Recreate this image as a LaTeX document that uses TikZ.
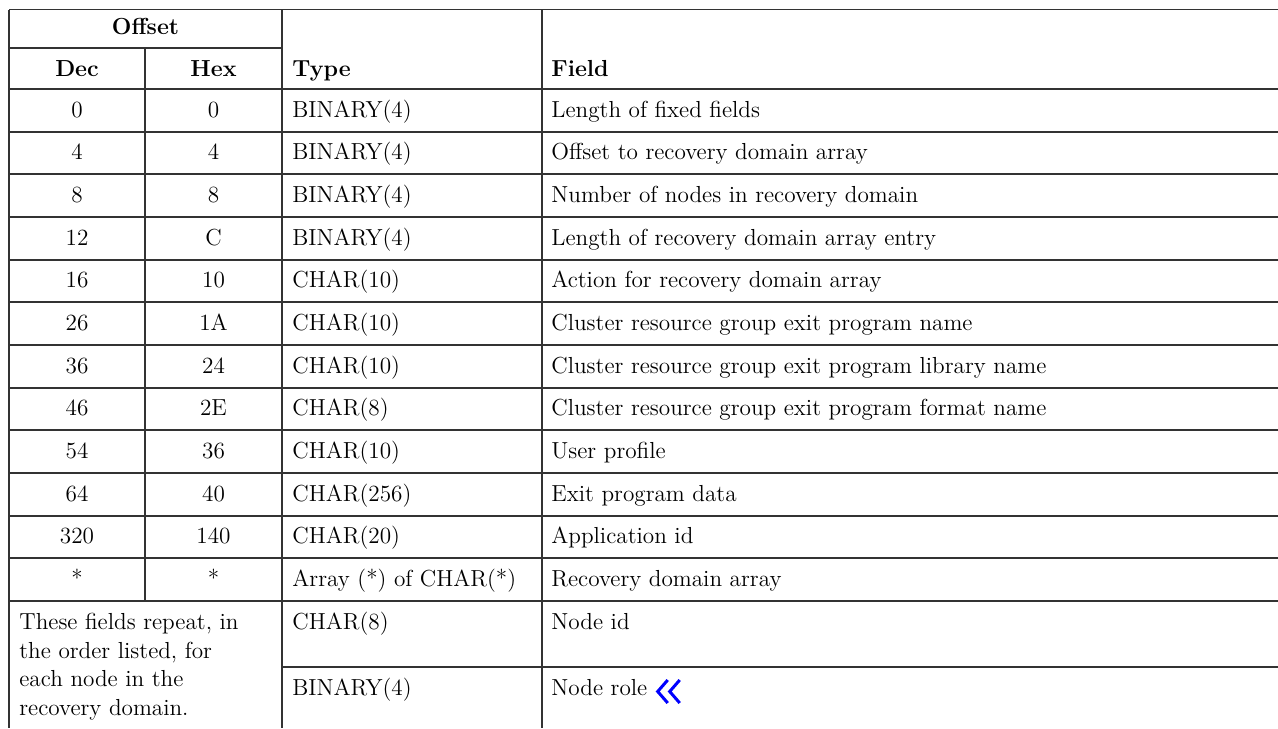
\documentclass[tikz,border=0pt]{standalone}
\usetikzlibrary{calc}
\begin{document}
\begin{tikzpicture}[x=0.5pt,y=-0.5pt,
  rule/.style={draw=black!80,line width=0.9pt},
  txt/.style={inner sep=0pt,font=\fontsize{11.6}{14.25}\selectfont},
  hd/.style={txt,font=\fontsize{11.6}{14.25}\selectfont\bfseries}]
\useasboundingbox (0,0) rectangle (1278,728);
\draw[rule] (9,9.5)--(1278,9.5);
\draw[rule] (9,48)--(282,48);
\draw[rule] (9,89)--(1278,89);
\foreach \r in {1,...,12}
  \draw[rule] (9,89+42.67*\r)--(1278,89+42.67*\r);
\draw[rule] (282,667)--(1278,667);
\draw[rule] (9,9.5)--(9,728);
\draw[rule] (145,48)--(145,601);
\draw[rule] (282,9.5)--(282,728);
\draw[rule] (541.7,9.5)--(541.7,728);
\node[hd,anchor=base](offset)at(145.5,34.5){Offset};
\node[hd,anchor=base](dec)at(77,76){Dec};
\node[hd,anchor=base](hex)at(213.5,76){Hex};
\node[hd,anchor=base west](type)at(292,76){Type};
\node[hd,anchor=base west](field)at(551,76){Field};
\foreach \d/\h/\t/\f [count=\i from 0] in {
  0/0/BINARY(4)/Length of fixed fields,
  4/4/BINARY(4)/Offset to recovery domain array,
  8/8/BINARY(4)/Number of nodes in recovery domain,
  12/C/BINARY(4)/Length of recovery domain array entry,
  16/10/CHAR(10)/Action for recovery domain array,
  26/1A/CHAR(10)/Cluster resource group exit program name,
  36/24/CHAR(10)/Cluster resource group exit program library name,
  46/2E/CHAR(8)/Cluster resource group exit program format name,
  54/36/CHAR(10)/User profile,
  64/40/CHAR(256)/Exit program data,
  320/140/CHAR(20)/Application id,
  */*/Array (*) of CHAR(*)/Recovery domain array}{
  \node[txt,anchor=base](dec\i)at(77,117+42.67*\i){\d};
  \node[txt,anchor=base](hex\i)at(213.5,117+42.67*\i){\h};
  \node[txt,anchor=base west](type\i)at(292,117+42.67*\i){\t};
  \node[txt,anchor=base west](field\i)at(551,117+42.67*\i){\f};
}
\node[txt,anchor=north west,align=left](note)at(19,613){These fields repeat, in\\the order listed, for\\each node in the\\recovery domain.};
\node[txt,anchor=base west](idtype)at(292,629){CHAR(8)};
\node[txt,anchor=base west](id)at(551,629){Node id};
\node[txt,anchor=base west](roletype)at(292,695){BINARY(4)};
\node[txt,anchor=base west](role)at(551,695){Node role};
\draw[blue,line width=1.5pt]
  ($(role.base east)+(20,-15)$)--++(-10,11.5)--++(10,11.5)
  ($(role.base east)+(32,-15)$)--++(-10,11.5)--++(10,11.5);
\end{tikzpicture}
\end{document}
